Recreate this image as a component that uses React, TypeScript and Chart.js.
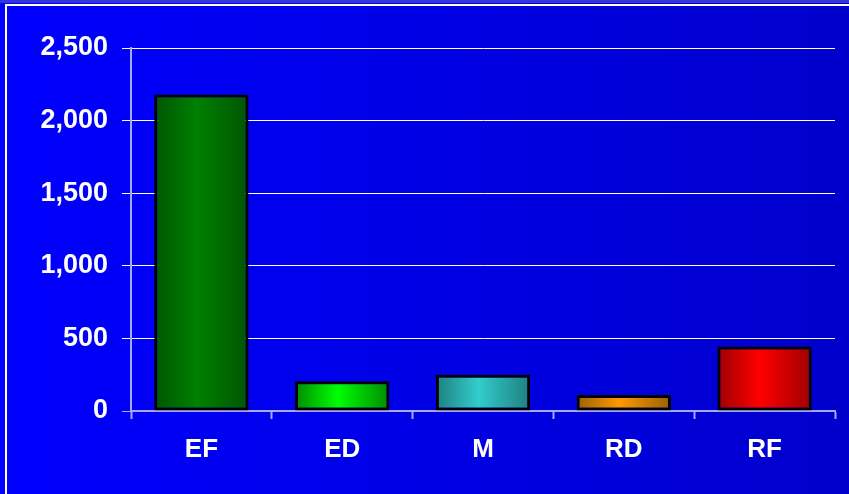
import React, { useEffect, useRef } from "react";
import { Chart, registerables } from "chart.js";

Chart.register(...registerables);

const categories = ["EF", "ED", "M", "RD", "RF"];
const values = [2180, 205, 250, 110, 445];
const barCenterColors = ["#008000", "#00FF00", "#33CCCC", "#FF9900", "#FF0000"];
const barEdgeColors = ["#005500", "#008C00", "#1F7F7F", "#996100", "#9E0000"];
const yTicks = [0, 500, 1000, 1500, 2000, 2500];

const AXIS_COLOR = "#A8A8F0";
const BAR_PCT = 0.67;

const bgPlugin = {
  id: "bgFrame",
  beforeDraw(chart: any) {
    const { ctx, width, height } = chart;
    ctx.save();
    const g = ctx.createLinearGradient(0, 0, width, 0);
    g.addColorStop(0, "#0000FF");
    g.addColorStop(1, "#0000CC");
    ctx.fillStyle = g;
    ctx.fillRect(0, 0, width, height);
    ctx.fillStyle = "#3535D8";
    ctx.fillRect(0, 0, width, 3);
    ctx.strokeStyle = "#FFFFFF";
    ctx.lineWidth = 2;
    ctx.beginPath();
    ctx.moveTo(6, height + 5);
    ctx.lineTo(6, 5);
    ctx.lineTo(width + 5, 5);
    ctx.stroke();
    ctx.restore();
  },
};

export default function App() {
  const ref = useRef<HTMLCanvasElement | null>(null);

  useEffect(() => {
    document.body.style.margin = "0";
    const canvas = ref.current;
    if (!canvas) return;
    const family = "'Liberation Sans', Arial, sans-serif";
    const chart = new Chart(canvas, {
      type: "bar",
      data: {
        labels: categories,
        datasets: [
          {
            data: values,
            backgroundColor: (c: any) => {
              const chart = c.chart;
              const xs = chart.scales && chart.scales.x;
              const i = c.dataIndex ?? 0;
              if (!xs || !chart.chartArea) return barCenterColors[i];
              const cx = xs.getPixelForValue(i);
              const w = (xs.width / categories.length) * BAR_PCT;
              const g = chart.ctx.createLinearGradient(cx - w / 2, 0, cx + w / 2, 0);
              g.addColorStop(0, barEdgeColors[i]);
              g.addColorStop(0.45, barCenterColors[i]);
              g.addColorStop(1, barEdgeColors[i]);
              return g;
            },
            borderColor: "#000000",
            borderWidth: 3,
            borderSkipped: false,
            categoryPercentage: 1,
            barPercentage: BAR_PCT,
          },
        ],
      },
      options: {
        animation: false,
        responsive: false,
        maintainAspectRatio: false,
        layout: { padding: { left: 0, top: 48, right: 14, bottom: 0 } },
        plugins: { legend: { display: false }, tooltip: { enabled: false } },
        scales: {
          x: {
            z: 1,
            afterFit: (s: any) => {
              s.height = 83;
            },
            grid: {
              display: true,
              drawOnChartArea: false,
              drawTicks: true,
              tickLength: 8,
              tickColor: AXIS_COLOR,
              tickWidth: 2,
              offset: true,
            },
            border: { display: true, color: AXIS_COLOR, width: 2 },
            ticks: { color: "#FFFFFF", font: { family, size: 26, weight: "bold" }, padding: 15 },
          },
          y: {
            min: 0,
            max: 2500,
            afterFit: (s: any) => {
              s.width = 131;
            },
            afterBuildTicks: (s: any) => {
              s.ticks = yTicks.map((v) => ({ value: v }));
            },
            grid: {
              color: (c: any) => (c.tick && c.tick.value === 0 ? AXIS_COLOR : "#FFFFFF"),
              lineWidth: 1,
              tickLength: 9,
              drawTicks: true,
            },
            border: { display: true, color: AXIS_COLOR, width: 2 },
            ticks: {
              color: "#FFFFFF",
              font: { family, size: 27, weight: "bold" },
              padding: 14,
              callback: (v: any) => Number(v).toLocaleString("en-US"),
            },
          },
        },
      },
      plugins: [bgPlugin],
    });
    return () => chart.destroy();
  }, []);

  return (
    <div style={{ width: 849, height: 494 }}>
      <canvas ref={ref} width={849} height={494} style={{ display: "block" }} />
    </div>
  );
}
